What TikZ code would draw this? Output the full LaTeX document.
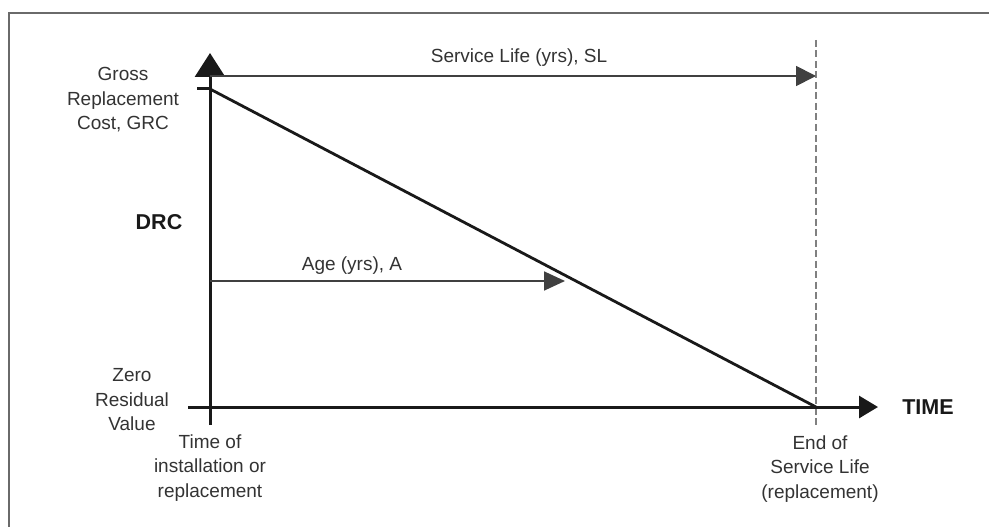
\documentclass[tikz,border=0pt]{standalone}
\usepackage{fontspec}
\setmainfont{Liberation Sans}
\usetikzlibrary{arrows.meta}
\definecolor{txtcol}{HTML}{333333}
\definecolor{framecol}{HTML}{6A6A6A}
\definecolor{dashcol}{HTML}{808080}
\tikzset{
  lbl/.style={text=txtcol, font=\fontsize{19}{24.5}\selectfont, align=center, inner sep=0pt},
  boldlbl/.style={text=black!90, font=\fontsize{21.5}{24}\selectfont\bfseries, inner sep=0pt},
  axis/.style={line width=3pt, draw=black!90},
  thinarrow/.style={line width=1.8pt, draw=black!75},
}
\begin{document}
\begin{tikzpicture}[x=1pt,y=-1pt]
\useasboundingbox (0,0) rectangle (989,527);
% frame
\draw[draw=framecol, line width=1.8pt] (9,540) -- (9,13) -- (1000,13);
% coordinates
\coordinate (ytop) at (210,53);
\coordinate (ybot) at (210,425);
\coordinate (xl) at (188,407);
\coordinate (xr) at (878,407);
\coordinate (grc) at (210,89);
\coordinate (grctick) at (197,89);
\coordinate (end) at (816,407);
\coordinate (dtop) at (816,40);
\coordinate (dbot) at (816,428);
\coordinate (slstart) at (210,76);
\coordinate (slend) at (816,76);
\coordinate (agestart) at (210,281);
\coordinate (ageend) at (565,281);
% dashed line
\draw[draw=dashcol, line width=1.9pt, dash pattern=on 7pt off 3.5pt] (dtop) -- (dbot);
% axes
\draw[axis, -{Triangle[length=24pt,width=30pt]}] (ybot) -- (ytop);
\draw[axis, -{Triangle[length=19pt,width=22pt]}] (xl) -- (xr);
\draw[axis] (grctick) -- (grc);
% diagonal
\draw[line width=2.8pt, draw=black!90, line cap=round] (grc) -- (end);
% service life and age arrows
\draw[thinarrow, -{Triangle[length=20pt,width=20pt]}] (slstart) -- (slend);
\draw[thinarrow, -{Triangle[length=21pt,width=19pt]}] (agestart) -- (ageend);
% labels
\node[lbl] (sl) at (519,58) {Service Life (yrs), SL};
\node[lbl] (age) at (352,266) {Age (yrs), A};
\node[lbl] (grclbl) at (123,100) {Gross\\Replacement\\Cost, GRC};
\node[boldlbl] (drc) at (159,222) {DRC};
\node[lbl] (zero) at (132,400) {Zero\\Residual\\Value};
\node[lbl] (tinst) at (210,468) {Time of\\installation or\\replacement};
\node[lbl] (tend) at (820,469) {End of\\Service Life\\(replacement)};
\node[boldlbl] (time) at (928,407) {TIME};
\end{tikzpicture}
\end{document}
